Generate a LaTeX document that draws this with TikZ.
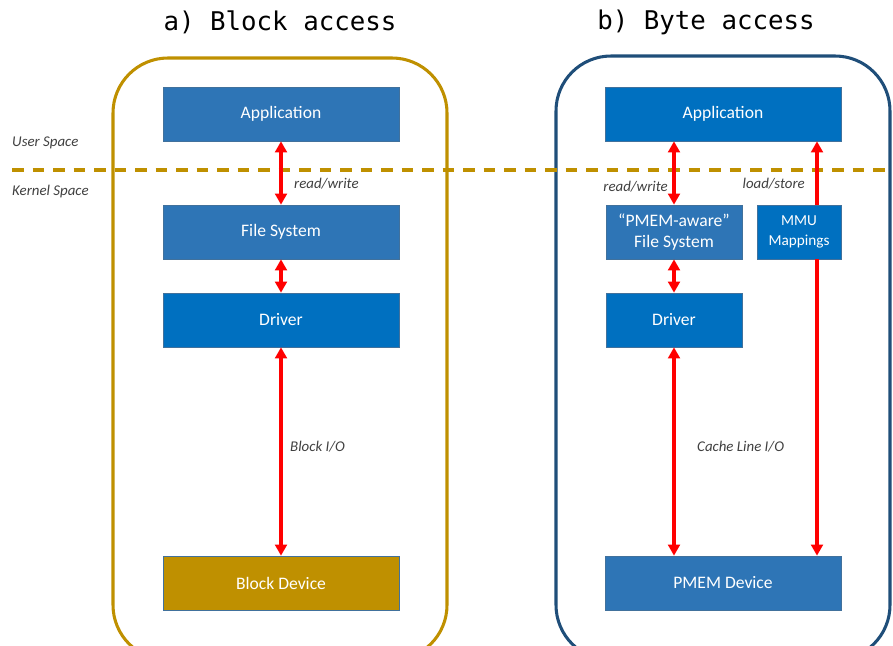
\documentclass[tikz,border=0pt]{standalone}
\usepackage{fontspec}
\setmainfont{Carlito}
\newfontfamily\titlefont{DejaVu Sans Mono}
\usetikzlibrary{arrows.meta}
\definecolor{boxblue}{HTML}{2E75B6}
\definecolor{brightblue}{HTML}{0070C0}
\definecolor{gold}{HTML}{BF9000}
\definecolor{navy}{HTML}{1F4E79}
\definecolor{edgeblue}{HTML}{41719C}
\definecolor{labelgray}{HTML}{404040}
\tikzset{
  block/.style={draw=edgeblue, line width=0.5pt, text=white, minimum height=1.62cm,
    inner sep=0pt, align=center, font=\fontsize{15}{18.5}\selectfont},
  wideblock/.style={block, minimum width=7.08cm},
  narrowblock/.style={block, minimum width=4.08cm},
  io/.style={red, line width=3.1pt},
  both/.style={io, {Triangle[length=9.5pt, width=10pt]}-{Triangle[length=9.5pt, width=10pt]}},
  oneway/.style={io, -{Triangle[length=9.5pt, width=10pt]}},
  lbl/.style={inner sep=0pt, text=labelgray, font=\itshape\fontsize{12.7}{15}\selectfont},
  heading/.style={inner sep=0pt, font=\titlefont\fontsize{22}{26}\selectfont},
  frame/.style={line width=2.6pt, rounded corners=1.65cm}
}
\begin{document}
\begin{tikzpicture}[x=0.03cm, y=-0.03cm]
  \clip (0,0) rectangle (893,646);
  % basliklar
  \node[heading] (titleA) at (280,22) {a) Block access};
  \node[heading] (titleB) at (706,22) {b) Byte access};
  % dis cerceveler
  \draw[frame, gold] (113,58) rectangle (447,660);
  \draw[frame, navy] (556,56) rectangle (890,660);
  % kullanici / cekirdek siniri
  \draw[gold, line width=2.8pt, dash pattern=on 10pt off 7.5pt] (12,170) -- (893,170);
  \node[lbl, anchor=west] (user) at (12,143) {User Space};
  \node[lbl, anchor=west] (kernel) at (12,192) {Kernel Space};
  % a) blok erisimi
  \node[wideblock, fill=boxblue] (appA) at (281,114) {Application};
  \node[wideblock, fill=boxblue] (fsA) at (281,232) {File System};
  \node[wideblock, fill=brightblue] (drvA) at (281,320) {Driver};
  \node[wideblock, fill=gold] (devA) at (281,583) {Block Device};
  \draw[both] (appA) -- (fsA);
  \draw[both] (fsA) -- (drvA);
  \draw[both] (drvA) -- (devA);
  \node[lbl, anchor=west] (rwA) at (294,184) {read/write};
  \node[lbl, anchor=west] (bio) at (290,447) {Block I/O};
  % b) bayt erisimi
  \node[wideblock, fill=brightblue] (appB) at (723,114) {Application};
  \node[narrowblock, fill=boxblue] (fsB) at (674,232) {“PMEM-aware”\\File System};
  \node[block, fill=brightblue, minimum width=2.52cm,
    font=\fontsize{13}{17}\selectfont] (mmu) at (799,232) {MMU\\Mappings};
  \node[narrowblock, fill=brightblue] (drvB) at (674,320) {Driver};
  \node[wideblock, fill=boxblue] (devB) at (723,583) {PMEM Device};
  \coordinate (mmuTop) at ([xshift=0.54cm]mmu.north);
  \coordinate (mmuBot) at ([xshift=0.54cm]mmu.south);
  \draw[both] (fsB.north |- appB.south) -- (fsB.north);
  \draw[both] (fsB) -- (drvB);
  \draw[both] (drvB.south) -- (drvB.south |- devB.north);
  \draw[oneway] (mmuTop) -- (mmuTop |- appB.south);
  \draw[oneway] (mmuBot) -- (mmuBot |- devB.north);
  \node[lbl, anchor=east] (rwB) at (668,187) {read/write};
  \node[lbl, anchor=east] (ls) at (805,184) {load/store};
  \node[lbl, anchor=west] (cio) at (697,447) {Cache Line I/O};
\end{tikzpicture}
\end{document}
